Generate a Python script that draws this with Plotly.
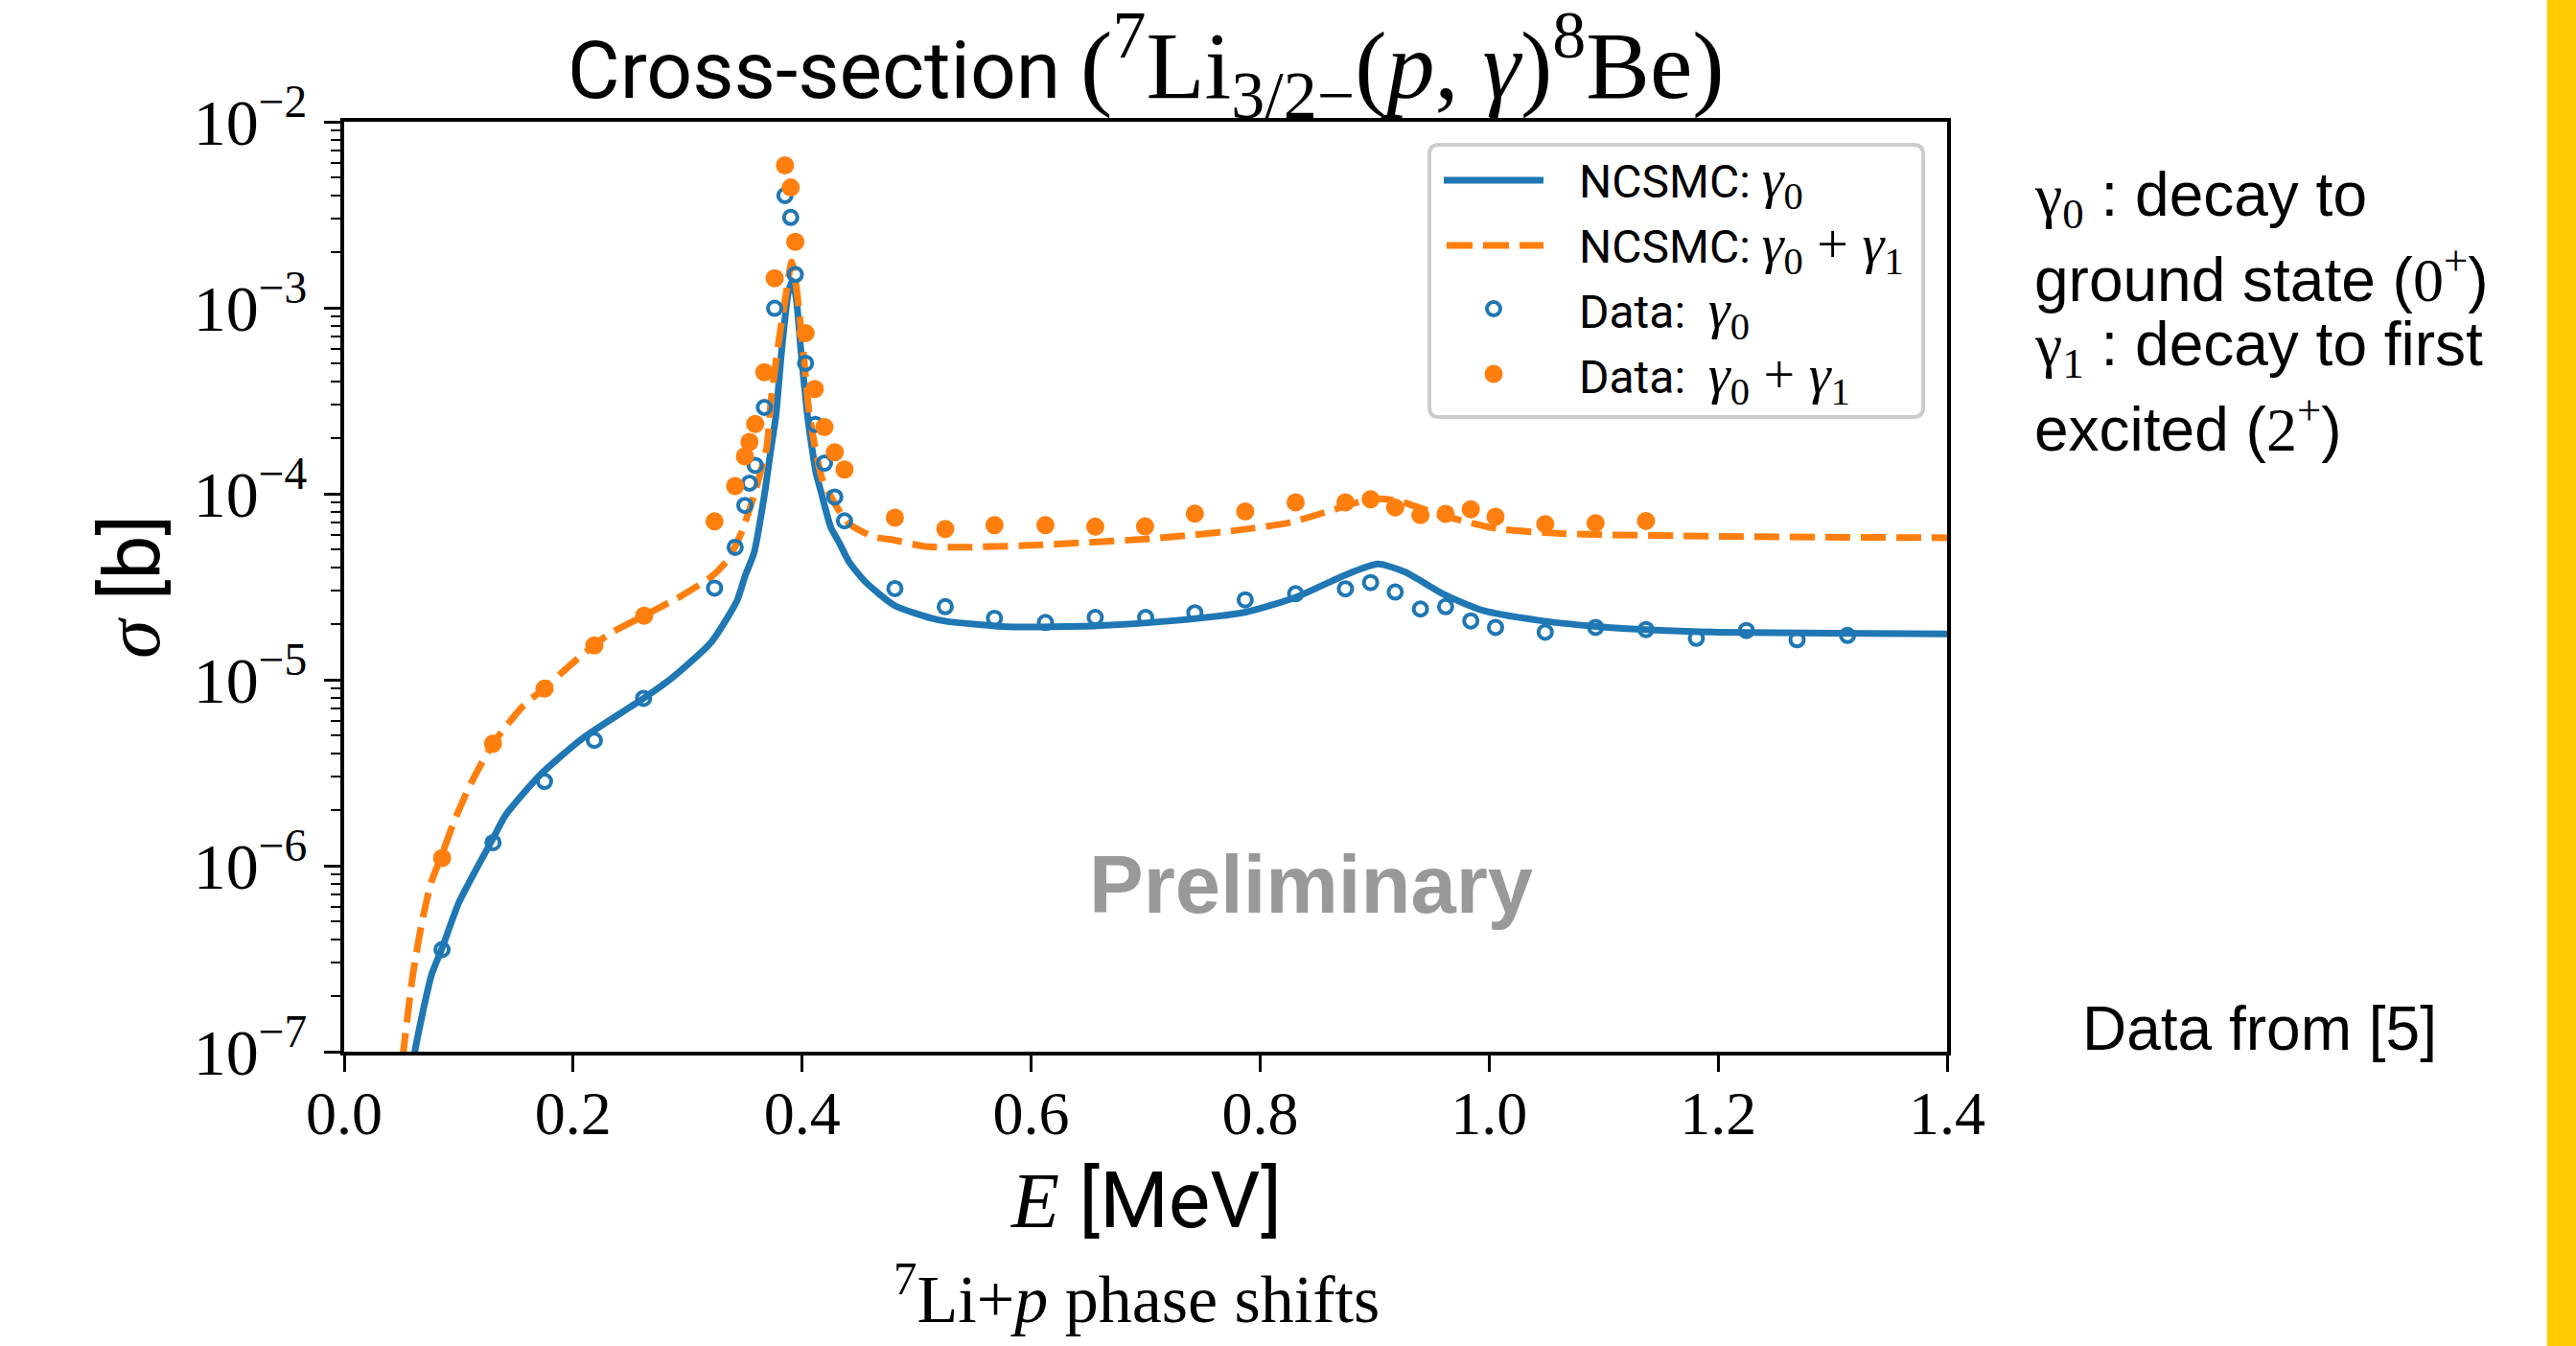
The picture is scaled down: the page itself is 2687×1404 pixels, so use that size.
import plotly.graph_objects as go

# ---------------- data ----------------
# NCSMC gamma0 curve
E_ncsmc_g0 = [0.057, 0.0617, 0.0762, 0.0855, 0.100, 0.115, 0.130, 0.141, 0.171, 0.2084,
              0.2615, 0.287, 0.3205, 0.343, 0.3504, 0.358, 0.367, 0.3729, 0.377, 0.382,
              0.3878, 0.3915, 0.395, 0.399, 0.4046, 0.4065, 0.412, 0.416, 0.425, 0.4326,
              0.441, 0.455, 0.481, 0.513, 0.526, 0.570, 0.5855, 0.6576, 0.7297, 0.7874,
              0.8307, 0.874, 0.9028, 0.9268, 0.9604, 0.9941, 1.042, 1.094, 1.12, 1.20,
              1.30, 1.40]
S_ncsmc_g0 = [6.0e-8, 1.0e-7, 2.58e-7, 3.6e-7, 6.3e-7, 9.5e-7, 1.4e-6, 1.87e-6, 3.07e-6, 4.85e-6,
              7.94e-6, 1.03e-5, 1.59e-5, 2.65e-5, 3.65e-5, 4.81e-5, 9.8e-5, 1.77e-4, 2.6e-4, 5.8e-4,
              1.19e-3, 1.4e-3, 1.10e-3, 5.8e-4, 2.64e-4, 2.16e-4, 1.3e-4, 1.05e-4, 6.6e-5, 5.42e-5,
              4.3e-5, 3.37e-5, 2.5e-5, 2.14e-5, 2.06e-5, 1.94e-5, 1.92e-5, 1.95e-5, 2.09e-5, 2.31e-5,
              2.77e-5, 3.65e-5, 4.19e-5, 3.79e-5, 2.88e-5, 2.36e-5, 2.09e-5, 1.93e-5, 1.88e-5, 1.80e-5,
              1.78e-5, 1.76e-5]

# NCSMC gamma0 + gamma1 curve
E_ncsmc_g01 = [0.048, 0.0517, 0.060, 0.068, 0.0762, 0.0855, 0.0963, 0.111, 0.130, 0.156,
               0.175, 0.2009, 0.2308, 0.262, 0.2943, 0.3205, 0.3354, 0.3466, 0.358, 0.369,
               0.3729, 0.3803, 0.386, 0.3908, 0.395, 0.401, 0.4065, 0.4177, 0.4326, 0.4413,
               0.4625, 0.480, 0.5074, 0.5279, 0.5448, 0.6096, 0.7057, 0.778, 0.826, 0.8643,
               0.898, 0.922, 0.9604, 1.0086, 1.0662, 1.20, 1.40]
S_ncsmc_g01 = [6.0e-8, 1.0e-7, 2.6e-7, 5.0e-7, 8.2e-7, 1.15e-6, 1.75e-6, 2.79e-6, 4.53e-6, 7.2e-6,
               9.0e-6, 1.25e-5, 1.75e-5, 2.21e-5, 2.82e-5, 3.57e-5, 4.44e-5, 6.1e-5, 9.8e-5, 1.77e-4,
               3.21e-4, 7.1e-4, 1.19e-3, 1.76e-3, 1.28e-3, 5.8e-4, 2.64e-4, 1.19e-4, 8.05e-5, 6.87e-5,
               5.86e-5, 5.64e-5, 5.2e-5, 5.16e-5, 5.16e-5, 5.31e-5, 5.74e-5, 6.34e-5, 7.0e-5, 8.2e-5,
               9.42e-5, 9.1e-5, 7.59e-5, 6.47e-5, 6.1e-5, 5.9e-5, 5.8e-5]

# Data gamma0 (open circles)
E_data_g0 = [0.0855, 0.130, 0.175, 0.2185, 0.2615, 0.3235, 0.3415, 0.350, 0.354, 0.359,
             0.367, 0.376, 0.385, 0.390, 0.394, 0.403, 0.4115, 0.4195, 0.4285, 0.437,
             0.481, 0.525, 0.568, 0.6125, 0.656, 0.700, 0.743, 0.787, 0.831, 0.8745,
             0.8965, 0.918, 0.940, 0.962, 0.984, 1.0056, 1.049, 1.093, 1.137, 1.181,
             1.2247, 1.269, 1.313]
S_data_g0 = [3.54e-7, 1.33e-6, 2.84e-6, 4.72e-6, 7.94e-6, 3.11e-5, 5.15e-5, 8.65e-5, 1.14e-4, 1.42e-4,
             2.91e-4, 9.93e-4, 4.01e-3, 3.06e-3, 1.51e-3, 5.03e-4, 2.36e-4, 1.46e-4, 9.6e-5, 7.15e-5,
             3.09e-5, 2.47e-5, 2.14e-5, 2.03e-5, 2.16e-5, 2.16e-5, 2.29e-5, 2.69e-5, 2.90e-5, 3.08e-5,
             3.33e-5, 2.96e-5, 2.40e-5, 2.47e-5, 2.07e-5, 1.91e-5, 1.80e-5, 1.91e-5, 1.86e-5, 1.67e-5,
             1.84e-5, 1.64e-5, 1.73e-5]

# Data gamma0 + gamma1 (filled dots)
E_data_g01 = [0.0855, 0.130, 0.175, 0.2185, 0.262, 0.3235, 0.3415, 0.350, 0.354, 0.359,
              0.367, 0.376, 0.385, 0.390, 0.394, 0.403, 0.411, 0.4195, 0.4285, 0.437,
              0.481, 0.525, 0.568, 0.6125, 0.656, 0.6995, 0.743, 0.787, 0.831, 0.8745,
              0.8965, 0.918, 0.940, 0.962, 0.984, 1.0056, 1.049, 1.093, 1.137]
S_data_g01 = [1.1e-6, 4.53e-6, 8.95e-6, 1.53e-5, 2.21e-5, 7.1e-5, 1.10e-4, 1.59e-4, 1.90e-4, 2.37e-4,
              4.5e-4, 1.44e-3, 5.83e-3, 4.43e-3, 2.26e-3, 7.31e-4, 3.66e-4, 2.28e-4, 1.67e-4, 1.35e-4,
              7.43e-5, 6.47e-5, 6.78e-5, 6.78e-5, 6.65e-5, 6.67e-5, 7.82e-5, 8.03e-5, 8.99e-5, 8.99e-5,
              9.35e-5, 8.43e-5, 7.67e-5, 7.8e-5, 8.24e-5, 7.52e-5, 6.87e-5, 6.95e-5, 7.14e-5]

x_ticks = [0.0, 0.2, 0.4, 0.6, 0.8, 1.0, 1.2, 1.4]
x_ticklabels = ["0.0", "0.2", "0.4", "0.6", "0.8", "1.0", "1.2", "1.4"]
y_exponents = [-7, -6, -5, -4, -3, -2]

# ---------------- styling ----------------
W, H = 2687, 1404
L, R, T, B = 359, 2031, 127, 1097
BLUE = "#1f77b4"
ORANGE = "#ff7f0e"
SANS = "Roboto"
SERIF = "Liberation Serif"


def px(x):
    return (x - L) / (R - L)


def py(y):
    return (B - y) / (B - T)


def serif(s, size=None):
    st = f"font-family:{SERIF}"
    if size:
        st += f";font-size:{size}px"
    return f"<span style='{st}'>{s}</span>"


fig = go.Figure()

fig.add_trace(go.Scatter(x=E_ncsmc_g0, y=S_ncsmc_g0, mode="lines",
                         line=dict(color=BLUE, width=7, shape="spline", smoothing=0.6),
                         showlegend=False))
fig.add_trace(go.Scatter(x=E_ncsmc_g01, y=S_ncsmc_g01, mode="lines",
                         line=dict(color=ORANGE, width=7, dash="26px,11px", shape="spline", smoothing=0.6),
                         showlegend=False))
fig.add_trace(go.Scatter(x=E_data_g0, y=S_data_g0, mode="markers",
                         marker=dict(symbol="circle-open", size=14, color=BLUE, line=dict(width=4, color=BLUE)),
                         showlegend=False))
fig.add_trace(go.Scatter(x=E_data_g01, y=S_data_g01, mode="markers",
                         marker=dict(symbol="circle", size=19, color=ORANGE, line=dict(width=0)),
                         showlegend=False))

minor_vals = [m * 10 ** e for e in range(-7, -2) for m in range(2, 10)]

fig.update_xaxes(range=[0, 1.4], showline=True, linewidth=4, linecolor="black", mirror=True,
                 ticks="outside", ticklen=17, tickwidth=3, tickcolor="black",
                 tickmode="array", tickvals=x_ticks, ticktext=x_ticklabels,
                 tickfont=dict(family=SERIF, size=64, color="black"),
                 ticklabelstandoff=-12, automargin=False,
                 showgrid=False, zeroline=False)
fig.update_yaxes(type="log", range=[-7, -2], showline=True, linewidth=4, linecolor="black", mirror=True,
                 ticks="outside", ticklen=17, tickwidth=3, tickcolor="black",
                 tickmode="array", tickvals=[10 ** e for e in y_exponents],
                 ticktext=[f"10<sup>\u2212{-e}</sup>" for e in y_exponents],
                 tickfont=dict(family=SERIF, size=68, color="black"),
                 ticklabelstandoff=4, automargin=False,
                 minor=dict(tickmode="array", tickvals=minor_vals, ticks="outside", ticklen=10,
                            tickwidth=2, tickcolor="black", showgrid=False),
                 showgrid=False, zeroline=False)

shapes = []
# yellow side bar
shapes.append(dict(type="rect", xref="paper", yref="paper", x0=px(2657), x1=px(2700),
                   y0=py(1420), y1=py(-20), fillcolor="#ffcc00", line=dict(width=0), layer="below"))
# legend box (rounded)
lx0, lx1, ly0, ly1, r = 1491, 2006, 151, 435, 10
rx, ry = r / (R - L), r / (B - T)
path = (f"M {px(lx0)+rx},{py(ly0)} L {px(lx1)-rx},{py(ly0)} Q {px(lx1)},{py(ly0)} {px(lx1)},{py(ly0)-ry} "
        f"L {px(lx1)},{py(ly1)+ry} Q {px(lx1)},{py(ly1)} {px(lx1)-rx},{py(ly1)} "
        f"L {px(lx0)+rx},{py(ly1)} Q {px(lx0)},{py(ly1)} {px(lx0)},{py(ly1)+ry} "
        f"L {px(lx0)},{py(ly0)-ry} Q {px(lx0)},{py(ly0)} {px(lx0)+rx},{py(ly0)} Z")
shapes.append(dict(type="path", xref="paper", yref="paper", path=path,
                   fillcolor="rgba(255,255,255,0.85)", line=dict(color="#cccccc", width=4)))
# legend samples
shapes.append(dict(type="line", xref="paper", yref="paper", x0=px(1506), x1=px(1610),
                   y0=py(188), y1=py(188), line=dict(color=BLUE, width=7)))
shapes.append(dict(type="line", xref="paper", yref="paper", x0=px(1509), x1=px(1610),
                   y0=py(256), y1=py(256), line=dict(color=ORANGE, width=7, dash="27px,11px")))
shapes.append(dict(type="circle", xref="paper", yref="paper", x0=px(1551), x1=px(1565),
                   y0=py(329), y1=py(315), line=dict(color=BLUE, width=4)))
shapes.append(dict(type="circle", xref="paper", yref="paper", x0=px(1548.5), x1=px(1567.5),
                   y0=py(399.5), y1=py(380.5), fillcolor=ORANGE, line=dict(width=0)))

ann = []


def add_text(text, x, y, size, family=SANS, xanchor="left", yanchor="middle", color="black", angle=0):
    ann.append(dict(text=text, x=px(x), y=py(y), xref="paper", yref="paper", showarrow=False,
                    xanchor=xanchor, yanchor=yanchor, textangle=angle,
                    font=dict(family=family, size=size, color=color)))


# legend texts
add_text("NCSMC: " + serif("<i>γ</i><sub>0</sub>", 58), 1645, 190, 48)
add_text("NCSMC: " + serif("<i>γ</i><sub>0</sub> + <i>γ</i><sub>1</sub>", 58), 1645, 258, 48)
add_text("Data:  " + serif("<i>γ</i><sub>0</sub>", 58), 1645, 326, 48)
add_text("Data:  " + serif("<i>γ</i><sub>0</sub> + <i>γ</i><sub>1</sub>", 58), 1645, 394, 48)

# title
add_text("Cross-section " + serif("(<sup>7</sup>Li<sub>3/2\u2212</sub>(<i>p</i>, <i>γ</i>)<sup>8</sup>Be)", 100),
         1195, 68, 84, xanchor="center")
# axis titles
add_text(serif("<i>E</i>") + " [MeV]", 1195, 1252, 82, xanchor="center")
add_text(serif("<i>σ</i>") + " [b]", 138, 612, 82, xanchor="center", angle=-90)
add_text("<sup>7</sup>Li+<i>p</i> phase shifts", 1185, 1350, 70, family=SERIF, xanchor="center")
# watermark
add_text("<b>Preliminary</b>", 1367, 922, 85, family="Liberation Sans", xanchor="center", color="#999999")
# right-hand notes
RS = "Liberation Sans"
add_text(serif("γ<sub>0</sub>") + " : decay to", 2120, 207, 64, family=RS)
add_text("ground state (" + serif("0<sup>+</sup>") + ")", 2120, 287, 64, family=RS)
add_text(serif("γ<sub>1</sub>") + " : decay to first", 2120, 363, 64, family=RS)
add_text("excited (" + serif("2<sup>+</sup>") + ")", 2120, 444, 64, family=RS)
add_text("Data from [5]", 2170, 1073, 64, family=RS)

fig.update_layout(width=W, height=H, margin=dict(l=L, r=W - R, t=T, b=H - B),
                  paper_bgcolor="white", plot_bgcolor="white", showlegend=False,
                  shapes=shapes, annotations=ann)

fig.write_html("out.html", config={"displayModeBar": False},
               post_script="document.body.style.margin='0';")
